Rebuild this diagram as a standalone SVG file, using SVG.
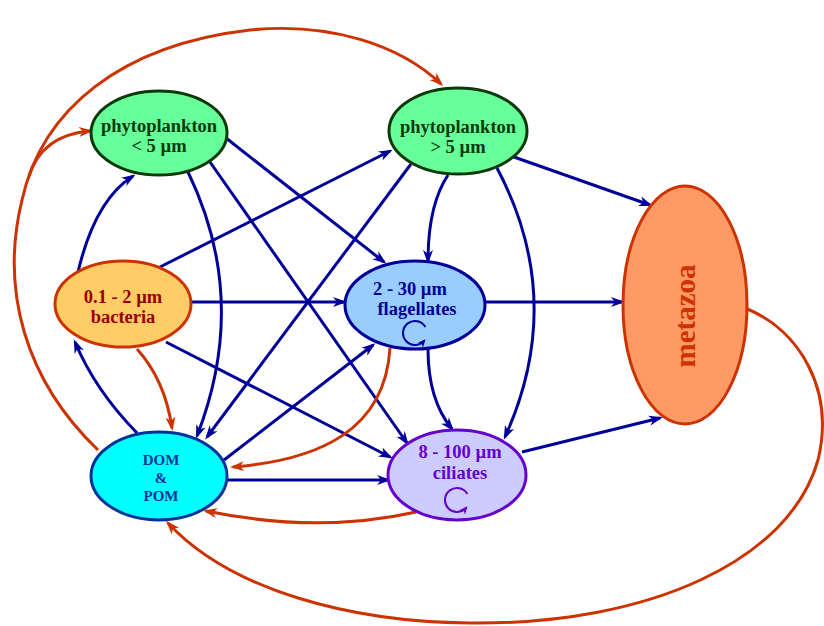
<svg xmlns="http://www.w3.org/2000/svg" width="824" height="626" viewBox="0 0 824 626">
<defs>
<style>
.e{fill:none;stroke-width:3}
.b{stroke:#000099;marker-end:url(#ab)}
.o{stroke:#cc3300;marker-end:url(#ao)}
.n{stroke-width:3}
.t{font-family:"Liberation Serif","Times New Roman",serif;font-weight:bold;text-anchor:middle}
</style>
<marker id="ab" markerUnits="userSpaceOnUse" markerWidth="15" markerHeight="11" refX="11" refY="5" orient="auto" overflow="visible"><path d="M0,0 L14,5 L0,10 L4,5 z" fill="#000099"/></marker>
<marker id="ao" markerUnits="userSpaceOnUse" markerWidth="15" markerHeight="11" refX="11" refY="5" orient="auto" overflow="visible"><path d="M0,0 L14,5 L0,10 L4,5 z" fill="#cc3300"/></marker>
<marker id="lf" markerUnits="userSpaceOnUse" markerWidth="9" markerHeight="8" refX="6" refY="3.5" orient="auto" overflow="visible"><path d="M0,0 L8,3.5 L0,7 L2,3.5 z" fill="#000099"/></marker>
<marker id="lc" markerUnits="userSpaceOnUse" markerWidth="9" markerHeight="8" refX="6" refY="3.5" orient="auto" overflow="visible"><path d="M0,0 L8,3.5 L0,7 L2,3.5 z" fill="#6600cc"/></marker>
</defs>
<rect width="824" height="626" fill="#ffffff"/>
<g id="connectors">
<path class="e b" d="M78,272 Q95,200 133,176"/>
<path class="e b" d="M137,433 Q95,390 75,342"/>
<path class="e b" d="M158,268 L390,151"/>
<path class="e b" d="M192,302 L344,302"/>
<path class="e b" d="M166,342 L390,457"/>
<path class="e b" d="M188,172 Q250,300 197,436"/>
<path class="e b" d="M210,162 L407,443"/>
<path class="e b" d="M226,138 L384,262"/>
<path class="e b" d="M411,164 L207,437"/>
<path class="e b" d="M448,175 Q428,205 428,261"/>
<path class="e b" d="M497,168 Q567,300 505,437"/>
<path class="e b" d="M514,157 L650,205"/>
<path class="e b" d="M485,302 L622,302"/>
<path class="e b" d="M428,349 Q428,400 452,429"/>
<path class="e b" d="M224,460 L373,345"/>
<path class="e b" d="M227,480 L388,480"/>
<path class="e b" d="M522,452 L660,418"/>
<path class="e o" d="M98,450 C25,380 0,290 22,200 C42,110 120,45 250,30 C330,22 400,45 441,84"/>
<path class="e o" d="M29,176 Q42,135 90,131"/>
<path class="e o" d="M137,349 Q165,380 172,428"/>
<path class="e o" d="M390,348 C385,430 320,460 233,467"/>
<path class="e o" d="M416,512 Q318,534 206,511"/>
<path class="e o" d="M745,308 C800,330 835,390 818,460 C790,560 650,625 470,623 C350,622 230,590 168,523"/>
</g>
<g id="phyto-small">
<ellipse class="n" cx="159" cy="133" rx="68" ry="42" fill="#66ff99" stroke="#0a3a0a"/>
<text class="t" x="159" y="132" font-size="18.5" fill="#0a3a0a">phytoplankton</text>
<text class="t" x="159" y="152" font-size="18.5" fill="#0a3a0a">&lt; 5 µm</text>
</g>
<g id="phyto-large">
<ellipse class="n" cx="458" cy="131" rx="69" ry="43" fill="#66ff99" stroke="#0a3a0a"/>
<text class="t" x="458" y="133" font-size="18.5" fill="#0a3a0a">phytoplankton</text>
<text class="t" x="458" y="153" font-size="18.5" fill="#0a3a0a">&gt; 5 µm</text>
</g>
<g id="bacteria">
<ellipse class="n" cx="123" cy="304" rx="68" ry="43" fill="#ffcc66" stroke="#cc3300"/>
<text class="t" x="123" y="303" font-size="18.5" fill="#990000">0.1 - 2 µm</text>
<text class="t" x="123" y="323" font-size="18.5" fill="#990000">bacteria</text>
</g>
<g id="flagellates">
<ellipse class="n" cx="415" cy="305" rx="70" ry="44" fill="#99ccff" stroke="#000099"/>
<text class="t" x="410" y="295" font-size="18.5" fill="#000099">2 - 30 µm</text>
<text class="t" x="417" y="315" font-size="18.5" fill="#000099">flagellates</text>
<path d="M425.4,327 A12,12 0 1 0 424.2,340.7" fill="none" stroke="#000099" stroke-width="2" marker-end="url(#lf)"/>
</g>
<g id="dom-pom">
<ellipse class="n" cx="159" cy="476" rx="68" ry="44" fill="#00ffff" stroke="#003399"/>
<text class="t" x="161" y="465" font-size="15" fill="#003399">DOM</text>
<text class="t" x="161" y="483" font-size="15" fill="#003399">&amp;</text>
<text class="t" x="161" y="501" font-size="15" fill="#003399">POM</text>
</g>
<g id="ciliates">
<ellipse class="n" cx="457" cy="475" rx="69" ry="45" fill="#ccccff" stroke="#6600cc"/>
<text class="t" x="460" y="458" font-size="18.5" fill="#6600cc">8 - 100 µm</text>
<text class="t" x="460" y="479" font-size="18.5" fill="#6600cc">ciliates</text>
<path d="M467.4,494 A12,12 0 1 0 466.2,507.7" fill="none" stroke="#6600cc" stroke-width="2" marker-end="url(#lc)"/>
</g>
<g id="metazoa">
<ellipse class="n" cx="685" cy="305" rx="62" ry="119" fill="#ff9966" stroke="#cc3300"/>
<text class="t" transform="translate(695,316) rotate(-90)" x="0" y="0" font-size="29" fill="#cc3300">metazoa</text>
</g>
</svg>
